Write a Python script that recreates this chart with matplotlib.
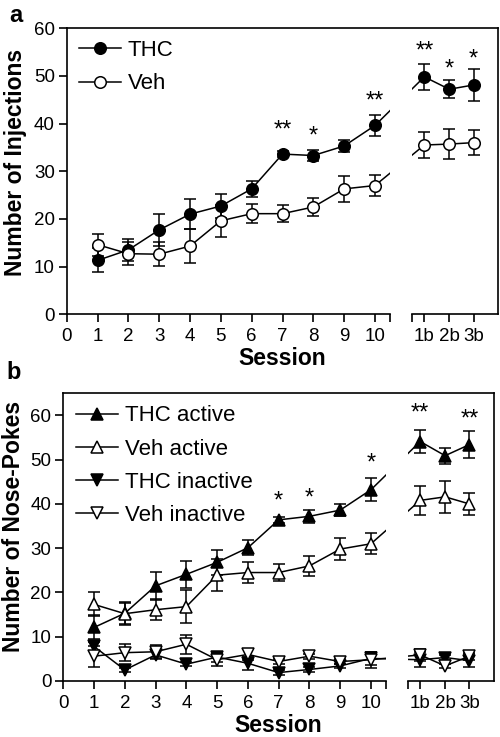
import numpy as np
import matplotlib.pyplot as plt
from matplotlib.lines import Line2D

plt.rcParams['font.family'] = ['Liberation Sans', 'DejaVu Sans']

# x positions: sessions 1-10, then the three "b" sessions after the axis break
sessions = [1, 2, 3, 4, 5, 6, 7, 8, 9, 10]
b_sessions = ['1b', '2b', '3b']
b_pos = [11.6, 12.41, 13.2]
x_all = sessions + b_pos

# panel a: number of injections (mean, sem)
thc_inj = [11.3, 13.5, 17.7, 21.0, 22.7, 26.3, 33.6, 33.3, 35.3, 39.6, 49.8, 47.2, 48.1]
thc_inj_sem = [2.5, 2.3, 3.3, 3.2, 2.5, 1.7, 0.6, 1.15, 1.35, 2.3, 2.8, 1.9, 3.4]
veh_inj = [14.6, 12.7, 12.6, 14.3, 19.6, 21.1, 21.1, 22.5, 26.3, 27.0, 35.5, 35.7, 36.0]
veh_inj_sem = [2.3, 2.4, 2.5, 3.6, 3.3, 2.0, 1.85, 1.9, 2.65, 2.25, 2.8, 3.15, 2.65]

# panel b: number of nose-pokes (mean, sem)
thc_act = [12.1, 15.3, 21.5, 24.1, 26.8, 30.1, 36.4, 37.2, 38.6, 43.2, 54.1, 50.9, 53.4]
thc_act_sem = [2.7, 2.5, 3.1, 3.1, 2.9, 1.7, 0.6, 1.5, 1.3, 2.65, 2.7, 1.8, 3.1]
veh_act = [17.3, 15.2, 16.1, 16.8, 23.9, 24.5, 24.5, 26.0, 29.8, 31.0, 40.8, 41.6, 40.0]
veh_act_sem = [2.7, 2.5, 2.4, 3.7, 3.6, 2.3, 2.0, 2.3, 2.5, 2.4, 3.3, 3.6, 2.4]
thc_inact = [7.8, 2.5, 5.9, 3.8, 5.4, 4.0, 1.9, 2.6, 3.4, 5.1, 4.8, 5.3, 4.6]
thc_inact_sem = [1.0, 0.5, 1.0, 0.5, 1.0, 1.5, 0.5, 0.5, 0.5, 1.5, 1.7, 0.6, 1.5]
veh_inact = [5.6, 6.4, 6.6, 8.3, 4.8, 6.0, 4.4, 5.6, 4.4, 4.8, 5.9, 3.4, 5.6]
veh_inact_sem = [2.4, 1.9, 1.5, 2.2, 1.4, 1.3, 0.5, 0.6, 0.5, 1.8, 1.4, 0.5, 0.8]

# significance marks (x position, height of star centre, text)
stars_a_x = [7, 8, 10, 11.6, 12.41, 13.2]
stars_a_y = [40.1, 38.7, 46.2, 56.7, 52.9, 55.0]
stars_a_txt = ['**', '*', '**', '**', '*', '*']
stars_b_x = [7, 8, 10, 11.6, 13.2]
stars_b_y = [42.1, 42.8, 50.7, 62.0, 60.7]
stars_b_txt = ['*', '*', '*', '**', '**']

break_lo, break_hi = 10.5, 11.19


def setup_axes(ax, ymax, yticks):
    ax.set_xlim(0, 14)
    ax.set_ylim(0, ymax)
    for s in ax.spines.values():
        s.set_linewidth(1.2)
    ax.spines['bottom'].set_bounds(0, break_lo)
    ax.plot([break_hi, 14], [0, 0], color='black', lw=1.2, clip_on=False, zorder=3)
    # hide the connecting line inside the break
    ax.axvspan(break_lo, break_hi, color='white', zorder=2.2, lw=0)
    ticks = list(range(11)) + [break_lo, break_hi] + b_pos
    labels = [str(i) for i in range(11)] + ['', ''] + b_sessions
    ax.set_xticks(ticks)
    ax.set_xticklabels(labels)
    ax.set_yticks(yticks)
    ax.tick_params(direction='out', length=6, width=1.2, labelsize=13.5, pad=2.5)
    ax.tick_params(axis='x', pad=4)
    ax.set_xlabel('Session', fontsize=16.5, fontweight='bold', labelpad=1.5)


def series(ax, y, err, marker, filled):
    c = ax.errorbar(x_all, y, yerr=err, color='black', lw=1.1, marker=marker, ms=8.3,
                    mfc='black' if filled else 'white', mec='black', mew=1.1,
                    capsize=4.5, capthick=1.1, elinewidth=1.1)
    return c[0]


def stars(ax, xs, ys, txt):
    for x, y, t in zip(xs, ys, txt):
        ax.annotate(t, (x, y), xytext=(0, -9.5), textcoords='offset points',
                    ha='center', va='baseline', fontsize=17)


fig = plt.figure(figsize=(5, 7.37), dpi=100)

# panel a
ax1 = fig.add_axes([0.1334, 0.5736, 0.8632, 0.3881])
setup_axes(ax1, 60, range(0, 61, 10))
h1 = series(ax1, thc_inj, thc_inj_sem, 'o', True)
h2 = series(ax1, veh_inj, veh_inj_sem, 'o', False)
stars(ax1, stars_a_x, stars_a_y, stars_a_txt)
ax1.set_ylabel('Number of Injections', fontsize=16.5, fontweight='bold')
ax1.yaxis.set_label_coords(-0.092, 0.532)
ax1.legend([h1, h2], ['THC', 'Veh'], loc='upper left', bbox_to_anchor=(0.028, 0.958),
           frameon=False, fontsize=16, handlelength=1.9, handletextpad=0.3,
           labelspacing=0.55, borderpad=0, borderaxespad=0)
fig.text(0.018, 0.995, 'a', fontsize=17, fontweight='bold', va='top')

# panel b
ax2 = fig.add_axes([0.1266, 0.076, 0.8614, 0.3904])
setup_axes(ax2, 65, range(0, 61, 10))
h3 = series(ax2, thc_act, thc_act_sem, '^', True)
h4 = series(ax2, veh_act, veh_act_sem, '^', False)
h5 = series(ax2, thc_inact, thc_inact_sem, 'v', True)
h6 = series(ax2, veh_inact, veh_inact_sem, 'v', False)
stars(ax2, stars_b_x, stars_b_y, stars_b_txt)
ax2.set_ylabel('Number of Nose-Pokes', fontsize=16.5, fontweight='bold')
ax2.yaxis.set_label_coords(-0.089, 0.537)
ax2.legend([h3, h4, h5, h6], ['THC active', 'Veh active', 'THC inactive', 'Veh inactive'],
           loc='upper left', bbox_to_anchor=(0.029, 0.958), frameon=False, fontsize=16,
           handlelength=1.9, handletextpad=0.3, labelspacing=0.55, borderpad=0, borderaxespad=0)
fig.text(0.012, 0.51, 'b', fontsize=17, fontweight='bold', va='top')

fig.savefig('out.png', dpi=100)
